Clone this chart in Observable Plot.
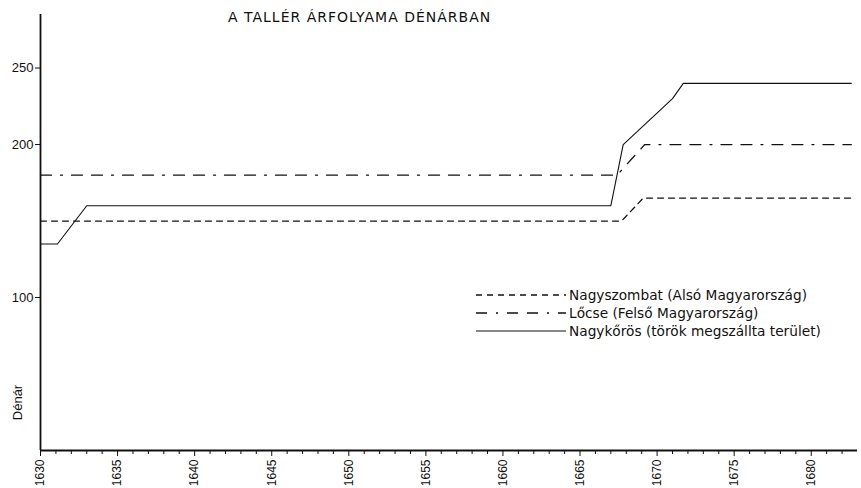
<!DOCTYPE html>
<html>
<head>
<meta charset="utf-8">
<script src="https://cdn.jsdelivr.net/npm/d3@7"></script>
<script src="https://cdn.jsdelivr.net/npm/@observablehq/plot@0.6"></script>
<style>
  html, body { margin: 0; padding: 0; background: #fff; }
  #wrap { position: relative; width: 861px; height: 488px; font-family: "Liberation Sans", Arial, sans-serif; color: #111; }
  #title { position: absolute; left: 228px; top: 9px; font-family: "DejaVu Sans", sans-serif; font-size: 14px; letter-spacing: 1px; white-space: nowrap; }
  #legend { position: absolute; left: 476px; top: 286px; font-family: "DejaVu Sans", sans-serif; font-size: 13.7px; }
  #legend .row { display: flex; align-items: center; height: 18px; white-space: nowrap; }
  #legend svg { margin-right: 3px; }
</style>
</head>
<body>
<div id="wrap">
  <div id="chart"></div>
  <div id="title">A TALLÉR ÁRFOLYAMA DÉNÁRBAN</div>
  <div id="legend"></div>
</div>
<script>
// ---- data ----
const seriesNames = [
  "Nagyszombat (Alsó Magyarország)",
  "Lőcse (Felső Magyarország)",
  "Nagykőrös (török megszállta terület)"
];
const nagyszombatYears  = [1630, 1667.7, 1669.1, 1682.6];
const nagyszombatValues = [150, 150, 165, 165];
const locseYears  = [1630, 1667.4, 1669.2, 1682.6];
const locseValues = [180, 180, 200, 200];
const nagykorosYears  = [1630, 1631.1, 1633, 1667, 1667.8, 1671, 1671.7, 1682.6];
const nagykorosValues = [135, 135, 160, 160, 200, 230, 240, 240];
const majorTicksX = [1630, 1635, 1640, 1645, 1650, 1655, 1660, 1665, 1670, 1675, 1680];
const minorTicksX = [1631,1632,1633,1634,1636,1637,1638,1639,1641,1642,1643,1644,1646,1647,1648,1649,1651,1652,1653,1654,1656,1657,1658,1659,1661,1662,1663,1664,1666,1667,1668,1669,1671,1672,1673,1674,1676,1677,1678,1679,1681,1682];
const ticksY = [100, 200, 250];
const yLabel = "Dénár";

const styles = {
  [seriesNames[0]]: { dash: "6,5", width: 1.3 },
  [seriesNames[1]]: { dash: "11,9,2,9,11,9", width: 1.3 },
  [seriesNames[2]]: { dash: null, width: 1.1 }
};

function toRows(name, xs, vs) { return xs.map((x, i) => ({ series: name, year: x, value: vs[i] })); }
const rows = [
  toRows(seriesNames[0], nagyszombatYears, nagyszombatValues),
  toRows(seriesNames[1], locseYears, locseValues),
  toRows(seriesNames[2], nagykorosYears, nagykorosValues)
];

const marks = [
  Plot.ruleX([1630], { stroke: "#111", strokeWidth: 1.8 }),
  Plot.ruleY([0], { stroke: "#111", strokeWidth: 1.8 }),
  Plot.axisX({ ticks: minorTicksX, tickSize: 4, text: null, label: null, stroke: "#111" }),
  Plot.axisX({ ticks: majorTicksX, tickSize: 6, tickRotate: -90, tickFormat: d => String(d),
    fontSize: 12, tickPadding: 3, label: null, stroke: "#111", fill: "#111" }),
  Plot.axisY({ ticks: ticksY, tickSize: 5, tickFormat: d => String(d), fontSize: 13, tickPadding: 2,
    label: null, stroke: "#111", fill: "#111" }),
  Plot.text([yLabel], { frameAnchor: "bottom-left", rotate: -90, dx: -19, dy: -48, fontSize: 13, fill: "#111", textAnchor: "middle" })
];
rows.forEach((r, i) => {
  const s = styles[seriesNames[i]];
  marks.push(Plot.line(r, { x: "year", y: "value", stroke: "#111", strokeWidth: s.width,
    strokeDasharray: s.dash || undefined, curve: "linear" }));
});

const chart = Plot.plot({
  width: 861,
  height: 488,
  marginLeft: 40,
  marginRight: 4,
  marginTop: 14,
  marginBottom: 38,
  style: { fontFamily: "Liberation Sans, Arial, sans-serif", background: "#fff", color: "#111" },
  x: { domain: [1630, 1683] },
  y: { domain: [0, 285] },
  marks
});
document.getElementById("chart").appendChild(chart);

// legend
const legend = document.getElementById("legend");
seriesNames.forEach(name => {
  const s = styles[name];
  const row = document.createElement("div");
  row.className = "row";
  row.innerHTML = `<svg width="90" height="10"><line x1="0" y1="5" x2="90" y2="5" stroke="#111" stroke-width="${s.width}" ${s.dash ? `stroke-dasharray="${s.dash}"` : ""}/></svg><span>${name}</span>`;
  legend.appendChild(row);
});
</script>
</body>
</html>
